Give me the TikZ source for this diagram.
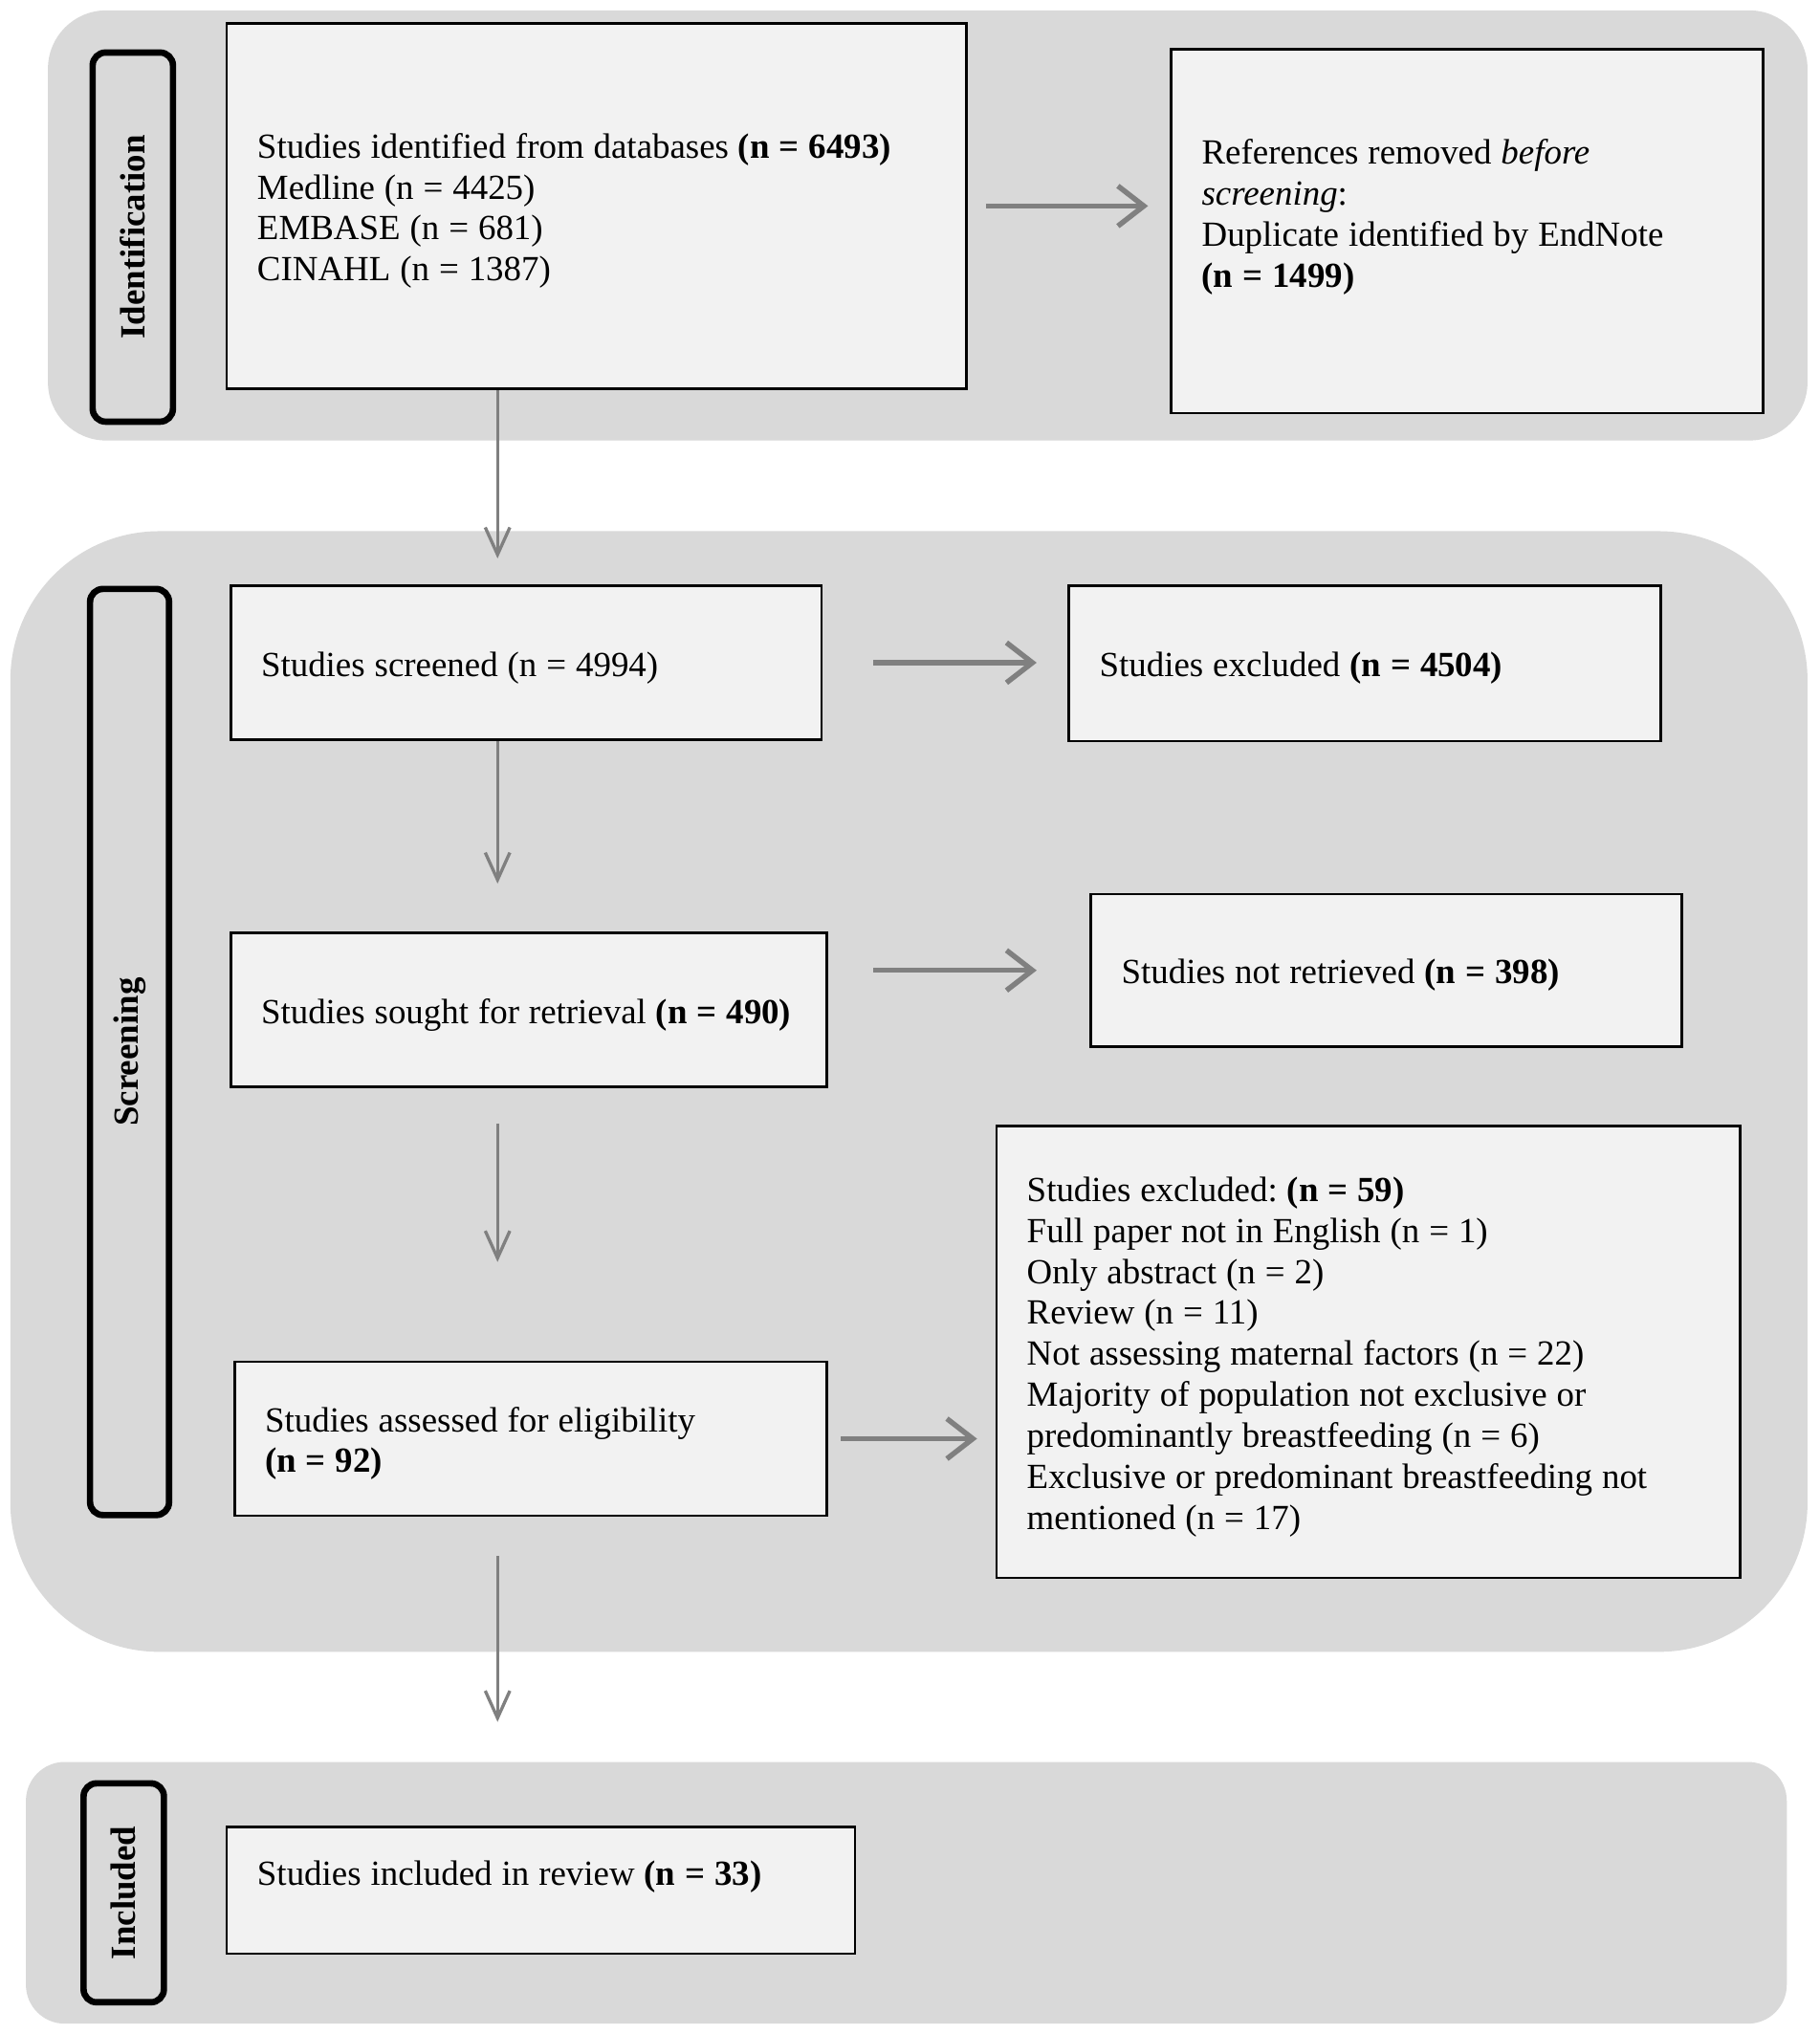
\documentclass[tikz,border=0pt]{standalone}
\usepackage{fontspec}
\setmainfont{Liberation Serif}
\usetikzlibrary{arrows.meta}
\definecolor{bandgray}{HTML}{D9D9D9}
\definecolor{boxgray}{HTML}{F2F2F2}
\definecolor{arrowgray}{HTML}{808080}
\frenchspacing
\newcommand\tightspace{\spaceskip=0.27em plus 0.1em minus 0.05em\relax}
\begin{document}
\begin{tikzpicture}[
            x=0.02cm, y=-0.02cm,
            every node/.style={font=\fontsize{15.5}{18}\selectfont},
            band/.style={fill=bandgray},
            stage/.style={rectangle, draw=black, line width=2.8pt, rounded corners=0.2cm, fill=bandgray,
                rotate=90, inner sep=0pt, font=\fontsize{15.5}{18}\selectfont\bfseries},
            box/.style={rectangle, draw=black, line width=1.1pt, fill=boxgray, inner xsep=0.47cm,
                inner ysep=0pt, align=left, execute at begin node={\tightspace\rule{0pt}{0.53cm}}},
            harrow/.style={-{Straight Barb[length=0.4cm, width=0.62cm]}, line width=2.3pt, color=arrowgray},
            varrow/.style={-{Straight Barb[length=0.42cm, width=0.38cm]}, line width=1.4pt, color=arrowgray}
        ]

        \fill[white] (0,0) rectangle (1404,1570);
        \useasboundingbox (0,0) rectangle (1404,1570);

        % stage bands
        \fill[band, rounded corners=0.9cm] (37,8) rectangle (1395,340);
        \fill[band, rounded corners=2.3cm] (8,410) rectangle (1395,1275);
        \fill[band, rounded corners=0.6cm] (20,1360) rectangle (1379,1562);

        \node[stage, minimum width=5.7cm,  minimum height=1.24cm] (identS) at (102.5,183) {Identification};
        \node[stage, minimum width=14.3cm, minimum height=1.22cm] (screenS) at (100,812) {Screening};
        \node[stage, minimum width=3.38cm, minimum height=1.24cm] (inclS) at (95.5,1461) {Included};

        \coordinate (spine) at (384,0);

        % boxes
        \node[box, minimum width=11.42cm, minimum height=5.64cm, text width=10.48cm] (ident) at (460.5,159)
            {Studies identified from databases \textbf{(n = 6493)}\\ Medline (n = 4425)\\ EMBASE (n = 681)\\ CINAHL (n = 1387)};
        \node[box, minimum width=9.14cm, minimum height=5.62cm, text width=8.2cm] (dup) at (1132.5,178.5)
            {References removed \textit{before}\\ \textit{screening}:\\ Duplicate identified by EndNote\\ \textbf{(n = 1499)}\rule[-0.7cm]{0pt}{0.7cm}};
        \node[box, minimum width=9.12cm, minimum height=2.38cm, text width=8.18cm] (screen) at (406,511.5)
            {Studies screened (n = 4994)};
        \node[box, minimum width=9.14cm, minimum height=2.4cm, text width=8.2cm] (excl) at (1053.5,512)
            {Studies excluded \textbf{(n = 4504)}};
        \node[box, minimum width=9.2cm, minimum height=2.38cm, text width=8.26cm] (sought) at (408,779.5)
            {Studies sought for retrieval \textbf{(n = 490)}};
        \node[box, minimum width=9.12cm, minimum height=2.36cm, text width=8.18cm] (notret) at (1070,749)
            {Studies not retrieved \textbf{(n = 398)}};
        \node[box, minimum width=9.14cm, minimum height=2.38cm, text width=8.2cm] (elig) at (409.5,1110.5)
            {Studies assessed for eligibility\\ \textbf{(n = 92)}};
        \node[box, minimum width=11.48cm, minimum height=6.98cm, text width=10.54cm] (exclist) at (1056,1043.5)
            {Studies excluded: \textbf{(n = 59)}\\ Full paper not in English (n = 1)\\ Only abstract (n = 2)\\ Review (n = 11)\\
             Not assessing maternal factors (n = 22)\\ Majority of population not exclusive or\\
             predominantly breastfeeding (n = 6)\\ Exclusive or predominant breastfeeding not\\ mentioned (n = 17)};
        \node[box, minimum width=9.7cm, minimum height=1.96cm, text width=8.76cm] (incl) at (417.5,1459)
            {Studies included in review \textbf{(n = 33)}\rule[-0.68cm]{0pt}{0.68cm}};

        % side arrows
        \draw[harrow, shorten <=0.28cm, shorten >=0.34cm] (ident.east) -- (ident.east -| dup.west);
        \draw[harrow, shorten <=0.78cm, shorten >=0.48cm] (screen.east) -- (screen.east -| excl.west);
        \draw[harrow, shorten <=0.7cm, shorten >=0.82cm] (sought.east |- notret.west) -- (notret.west);
        \draw[harrow, shorten <=0.2cm, shorten >=0.28cm] (elig.east) -- (elig.east -| exclist.west);

        % main flow
        \draw[varrow, shorten >=0.4cm] (ident.south -| spine) -- (screen.north -| spine);
        \draw[varrow, shorten >=0.74cm] (screen.south -| spine) -- (sought.north -| spine);
        \draw[varrow, shorten <=0.54cm, shorten >=1.52cm] (sought.south -| spine) -- (elig.north -| spine);
        \draw[varrow, shorten <=0.6cm, shorten >=1.6cm] (elig.south -| spine) -- (incl.north -| spine);

    \end{tikzpicture}
\end{document}
